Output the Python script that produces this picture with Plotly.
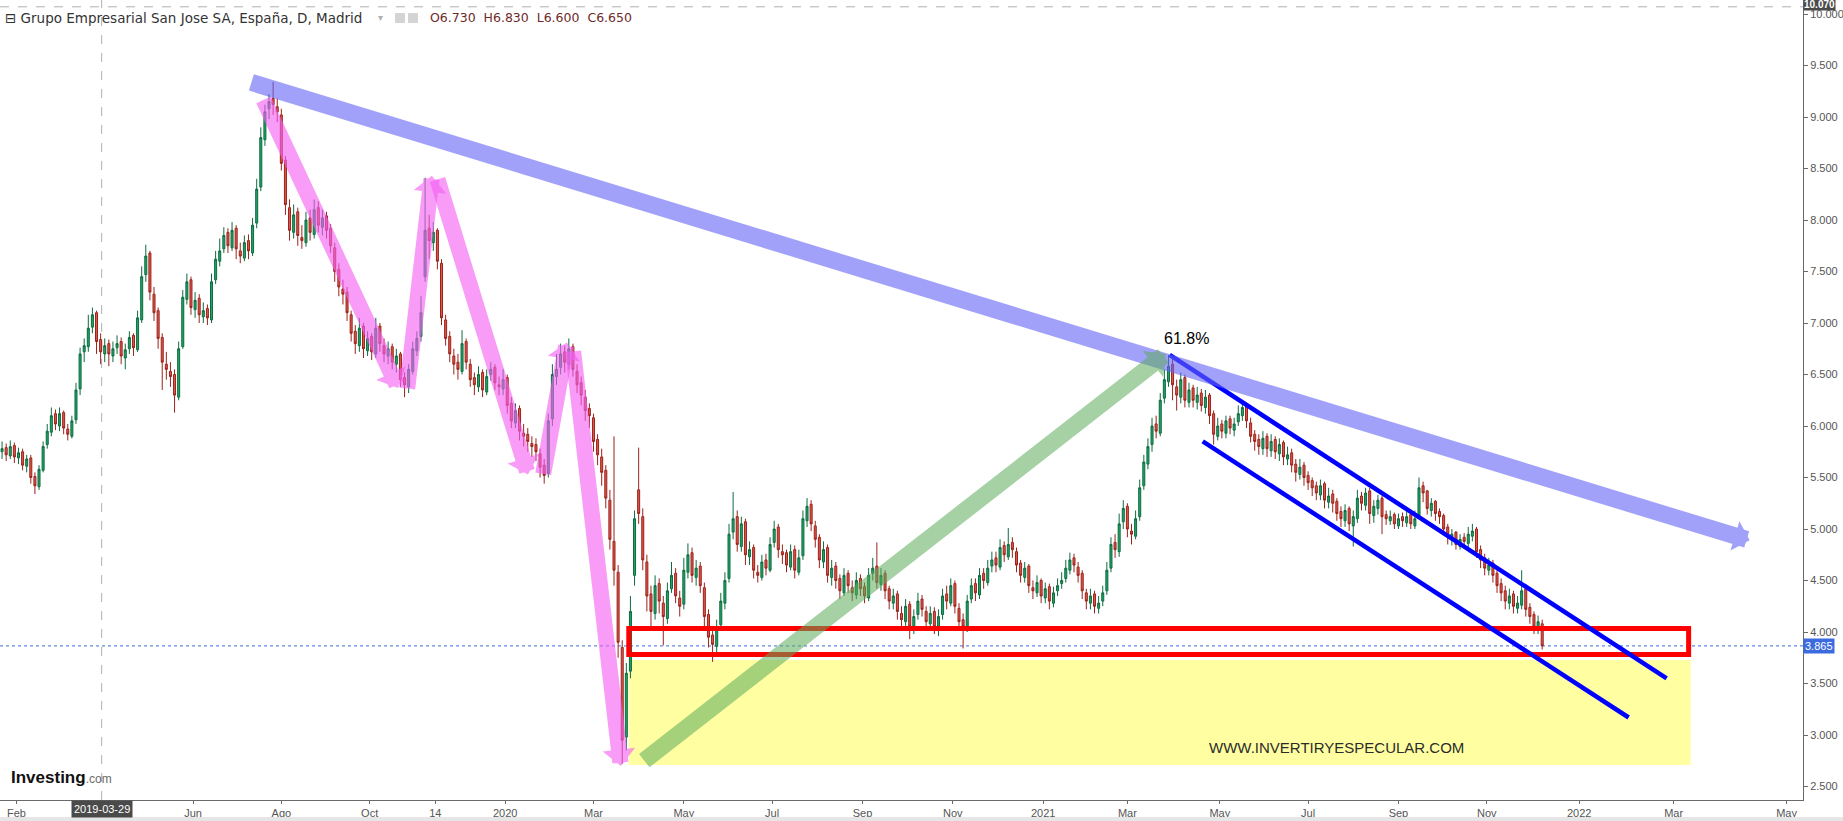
import numpy as np
import pandas as pd
import plotly.graph_objects as go

# ---------------- data (2-session candles) ----------------
opens = [
    5.75, 5.79, 5.71, 5.81, 5.69, 5.75, 5.61, 5.69, 5.51, 5.41,
    5.57, 5.82, 5.94, 6.12, 6.00, 6.13, 5.97, 5.90, 6.06, 6.36,
    6.72, 6.77, 6.96, 7.10, 6.84, 6.70, 6.80, 6.68, 6.76, 6.82,
    6.66, 6.75, 6.88, 6.74, 7.03, 7.47, 7.68, 7.28, 7.12, 6.86,
    6.60, 6.53, 6.50, 6.28, 6.77, 7.23, 7.42, 7.13, 7.24, 7.06,
    7.14, 7.03, 7.42, 7.60, 7.72, 7.88, 7.73, 7.92, 7.70, 7.63,
    7.80, 7.68, 7.97, 8.32, 8.78, 9.08, 9.18, 9.10, 9.02, 8.58,
    8.12, 7.88, 8.08, 7.83, 7.78, 8.02, 7.86, 8.12, 7.93, 8.04,
    7.92, 7.73, 7.52, 7.33, 7.30, 7.08, 6.92, 6.78, 6.97, 6.73,
    6.87, 6.70, 6.97, 6.78, 6.68, 6.77, 6.60, 6.70, 6.47, 6.38,
    6.53, 6.73, 6.87, 7.45, 7.92, 7.78, 7.90, 7.58, 7.03, 6.87,
    6.68, 6.62, 6.53, 6.82, 6.60, 6.47, 6.38, 6.52, 6.33, 6.50,
    6.57, 6.40, 6.36, 6.47, 6.22, 6.03, 6.17, 5.93, 5.92, 5.83,
    5.82, 5.73, 5.62, 5.54, 6.07, 6.48, 6.57, 6.72, 6.60, 6.77,
    6.53, 6.42, 6.28, 6.17, 6.08, 5.87, 5.70, 5.57, 5.28, 4.88,
    4.58, 3.85, 2.98, 3.62, 4.55, 5.38, 5.12, 4.68, 4.37, 4.18,
    4.47, 4.28, 4.13, 4.42, 4.57, 4.33, 4.27, 4.58, 4.77, 4.53,
    4.64, 4.43, 4.17, 3.97, 3.86, 4.07, 4.28, 4.52, 4.97, 5.12,
    4.83, 5.07, 4.73, 4.82, 4.58, 4.53, 4.70, 4.60, 4.87, 5.02,
    4.78, 4.77, 4.63, 4.80, 4.58, 4.74, 5.08, 5.24, 5.03, 4.92,
    4.68, 4.82, 4.53, 4.64, 4.52, 4.38, 4.57, 4.43, 4.36, 4.52,
    4.44, 4.33, 4.57, 4.64, 4.46, 4.57, 4.42, 4.28, 4.37, 4.18,
    4.10, 4.27, 4.03, 4.17, 4.32, 4.20, 4.08, 4.20, 4.03, 4.17,
    4.37, 4.28, 4.47, 4.23, 4.12, 4.03, 4.32, 4.47, 4.36, 4.57,
    4.48, 4.64, 4.72, 4.63, 4.84, 4.73, 4.87, 4.78, 4.67, 4.53,
    4.64, 4.43, 4.38, 4.50, 4.33, 4.44, 4.28, 4.40, 4.47, 4.52,
    4.60, 4.72, 4.63, 4.57, 4.38, 4.28, 4.37, 4.23, 4.30, 4.40,
    4.62, 4.87, 4.78, 5.07, 5.22, 4.98, 4.93, 5.12, 5.42, 5.63,
    5.82, 6.02, 5.93, 6.27, 6.43, 6.60, 6.38, 6.28, 6.47, 6.23,
    6.37, 6.23, 6.32, 6.18, 6.30, 6.12, 5.90, 6.02, 5.93, 6.07,
    5.96, 6.04, 6.10, 6.20, 6.03, 5.92, 5.87, 5.78, 5.90, 5.76,
    5.87, 5.73, 5.84, 5.68, 5.74, 5.63, 5.53, 5.62, 5.52, 5.47,
    5.42, 5.33, 5.44, 5.26, 5.34, 5.27, 5.17, 5.08, 5.20, 5.03,
    5.10, 5.32, 5.23, 5.37, 5.13, 5.20, 5.30, 5.14, 5.08, 5.14,
    5.03, 5.12, 5.06, 5.14, 5.03, 5.12, 5.42, 5.37, 5.18, 5.27,
    5.17, 5.13, 5.02, 4.90, 4.97, 4.83, 4.92, 4.86, 4.93, 5.00,
    4.80, 4.72, 4.60, 4.67, 4.57, 4.47, 4.40, 4.28, 4.37, 4.23,
    4.26, 4.42, 4.24, 4.17, 4.03, 4.08,
]
highs = [
    5.85, 5.83, 5.86, 5.84, 5.79, 5.78, 5.72, 5.72, 5.55, 5.62,
    5.85, 6.02, 6.18, 6.16, 6.18, 6.15, 6.02, 6.10, 6.42, 6.76,
    6.85, 7.08, 7.15, 7.12, 6.90, 6.85, 6.84, 6.82, 6.88, 6.86,
    6.80, 6.92, 6.90, 7.12, 7.55, 7.76, 7.70, 7.35, 7.15, 6.90,
    6.72, 6.62, 6.55, 6.82, 7.32, 7.48, 7.45, 7.30, 7.28, 7.20,
    7.18, 7.48, 7.70, 7.82, 7.93, 7.92, 7.98, 7.95, 7.78, 7.85,
    7.86, 8.02, 8.40, 8.90, 9.12, 9.22, 9.34, 9.18, 9.08, 8.62,
    8.20, 8.15, 8.12, 7.95, 8.08, 8.10, 8.20, 8.18, 8.10, 8.08,
    7.96, 7.78, 7.58, 7.42, 7.35, 7.12, 6.98, 7.05, 7.00, 6.92,
    6.90, 7.05, 7.00, 6.85, 6.82, 6.80, 6.75, 6.72, 6.52, 6.60,
    6.82, 6.92, 7.26, 8.41, 8.05, 7.98, 7.92, 7.62, 7.08, 6.92,
    6.75, 6.70, 6.93, 6.85, 6.65, 6.52, 6.58, 6.55, 6.55, 6.62,
    6.60, 6.48, 6.55, 6.50, 6.28, 6.22, 6.20, 6.02, 5.98, 5.90,
    5.88, 5.78, 5.68, 6.12, 6.60, 6.70, 6.80, 6.78, 6.85, 6.80,
    6.60, 6.48, 6.35, 6.22, 6.12, 5.92, 5.78, 5.62, 5.38, 5.90,
    4.65, 3.92, 3.70, 4.35, 5.18, 5.79, 5.20, 4.75, 4.45, 4.55,
    4.52, 4.35, 4.48, 4.68, 4.62, 4.40, 4.72, 4.86, 4.82, 4.70,
    4.68, 4.48, 4.22, 4.05, 4.12, 4.38, 4.58, 5.05, 5.36, 5.18,
    5.12, 5.10, 4.88, 4.85, 4.65, 4.75, 4.76, 4.92, 5.08, 5.05,
    4.85, 4.80, 4.85, 4.84, 4.80, 5.18, 5.30, 5.28, 5.08, 4.95,
    4.88, 4.85, 4.70, 4.68, 4.56, 4.62, 4.60, 4.50, 4.58, 4.56,
    4.48, 4.62, 4.72, 4.87, 4.62, 4.60, 4.45, 4.42, 4.40, 4.25,
    4.32, 4.30, 4.22, 4.38, 4.36, 4.25, 4.25, 4.24, 4.22, 4.42,
    4.45, 4.52, 4.50, 4.28, 4.18, 4.36, 4.52, 4.52, 4.62, 4.62,
    4.70, 4.78, 4.78, 4.90, 4.88, 5.01, 4.92, 4.82, 4.70, 4.68,
    4.66, 4.50, 4.55, 4.52, 4.48, 4.47, 4.44, 4.52, 4.58, 4.70,
    4.77, 4.76, 4.68, 4.60, 4.42, 4.42, 4.40, 4.35, 4.45, 4.68,
    4.92, 4.95, 5.15, 5.28, 5.25, 5.05, 5.18, 5.48, 5.72, 5.88,
    6.08, 6.10, 6.32, 6.55, 6.69, 6.65, 6.45, 6.52, 6.50, 6.42,
    6.40, 6.38, 6.36, 6.35, 6.32, 6.15, 6.08, 6.06, 6.10, 6.10,
    6.08, 6.20, 6.25, 6.22, 6.08, 5.96, 5.92, 5.95, 5.93, 5.92,
    5.90, 5.88, 5.86, 5.80, 5.78, 5.68, 5.68, 5.65, 5.56, 5.50,
    5.46, 5.48, 5.46, 5.40, 5.38, 5.30, 5.22, 5.24, 5.22, 5.18,
    5.38, 5.36, 5.40, 5.40, 5.28, 5.33, 5.32, 5.18, 5.18, 5.16,
    5.15, 5.16, 5.18, 5.16, 5.18, 5.50, 5.46, 5.38, 5.30, 5.28,
    5.20, 5.15, 5.05, 5.00, 4.98, 4.95, 4.96, 5.02, 5.05, 5.02,
    4.84, 4.76, 4.72, 4.70, 4.60, 4.52, 4.45, 4.42, 4.40, 4.35,
    4.60, 4.45, 4.28, 4.20, 4.16, 4.12,
]
lows = [
    5.68, 5.66, 5.68, 5.64, 5.63, 5.57, 5.55, 5.44, 5.34, 5.38,
    5.55, 5.78, 5.90, 5.96, 5.95, 5.92, 5.86, 5.88, 6.02, 6.30,
    6.62, 6.72, 6.90, 6.70, 6.60, 6.62, 6.58, 6.62, 6.70, 6.60,
    6.55, 6.70, 6.68, 6.72, 7.00, 7.40, 7.22, 7.02, 6.75, 6.35,
    6.45, 6.38, 6.13, 6.25, 6.75, 7.18, 7.08, 7.05, 7.00, 7.00,
    6.98, 7.00, 7.38, 7.55, 7.68, 7.68, 7.70, 7.62, 7.58, 7.60,
    7.62, 7.65, 7.92, 8.28, 8.72, 8.98, 9.02, 8.95, 8.48, 8.05,
    7.80, 7.82, 7.75, 7.72, 7.74, 7.80, 7.82, 7.88, 7.85, 7.82,
    7.68, 7.40, 7.26, 7.18, 7.02, 6.82, 6.70, 6.72, 6.66, 6.68,
    6.64, 6.66, 6.72, 6.62, 6.60, 6.55, 6.52, 6.38, 6.28, 6.32,
    6.50, 6.68, 6.82, 7.40, 7.62, 7.70, 7.52, 6.98, 6.78, 6.62,
    6.50, 6.45, 6.50, 6.55, 6.38, 6.30, 6.33, 6.28, 6.30, 6.44,
    6.35, 6.30, 6.30, 6.12, 5.98, 5.98, 5.86, 5.80, 5.75, 5.70,
    5.66, 5.50, 5.44, 5.50, 6.00, 6.40, 6.50, 6.52, 6.55, 6.48,
    6.32, 6.20, 6.05, 5.98, 5.75, 5.62, 5.42, 5.20, 4.80, 4.45,
    3.75, 2.72, 2.85, 3.55, 4.45, 5.05, 4.60, 4.20, 4.05, 4.12,
    4.18, 3.87, 4.08, 4.38, 4.28, 4.15, 4.22, 4.52, 4.48, 4.45,
    4.38, 4.05, 3.85, 3.71, 3.80, 4.02, 4.22, 4.48, 4.90, 4.78,
    4.78, 4.65, 4.65, 4.52, 4.48, 4.50, 4.55, 4.58, 4.82, 4.72,
    4.66, 4.58, 4.60, 4.52, 4.55, 4.70, 5.02, 4.98, 4.82, 4.62,
    4.62, 4.48, 4.45, 4.42, 4.32, 4.35, 4.38, 4.30, 4.32, 4.35,
    4.28, 4.30, 4.50, 4.42, 4.40, 4.32, 4.22, 4.22, 4.12, 4.02,
    4.05, 3.93, 3.98, 4.12, 4.15, 4.02, 4.02, 3.98, 3.96, 4.12,
    4.22, 4.25, 4.18, 4.02, 3.84, 4.00, 4.28, 4.30, 4.32, 4.42,
    4.45, 4.58, 4.58, 4.60, 4.68, 4.70, 4.72, 4.58, 4.48, 4.48,
    4.38, 4.32, 4.34, 4.28, 4.28, 4.22, 4.24, 4.35, 4.42, 4.48,
    4.56, 4.58, 4.48, 4.32, 4.22, 4.22, 4.18, 4.18, 4.25, 4.36,
    4.58, 4.72, 4.73, 5.00, 4.92, 4.85, 4.90, 5.08, 5.38, 5.58,
    5.75, 5.88, 5.90, 6.22, 6.38, 6.25, 6.15, 6.22, 6.18, 6.18,
    6.18, 6.16, 6.14, 6.12, 6.02, 5.82, 5.86, 5.88, 5.88, 5.92,
    5.90, 6.00, 6.05, 5.98, 5.84, 5.76, 5.72, 5.72, 5.70, 5.70,
    5.68, 5.66, 5.62, 5.62, 5.55, 5.46, 5.48, 5.42, 5.38, 5.32,
    5.28, 5.28, 5.20, 5.20, 5.16, 5.08, 5.02, 5.02, 4.98, 4.83,
    5.06, 5.18, 5.18, 5.05, 5.06, 5.14, 4.95, 5.04, 5.04, 5.00,
    5.00, 5.02, 5.02, 5.00, 5.00, 5.10, 5.26, 5.14, 5.12, 5.08,
    5.05, 4.94, 4.85, 4.84, 4.80, 4.80, 4.82, 4.82, 4.88, 4.72,
    4.62, 4.55, 4.55, 4.48, 4.38, 4.30, 4.22, 4.22, 4.18, 4.18,
    4.22, 4.15, 4.08, 3.98, 3.98, 3.83,
]
closes = [
    5.78, 5.72, 5.80, 5.70, 5.74, 5.62, 5.68, 5.50, 5.42, 5.58,
    5.80, 5.95, 6.10, 6.02, 6.12, 5.98, 5.92, 6.05, 6.35, 6.70,
    6.78, 6.95, 7.08, 6.82, 6.72, 6.78, 6.70, 6.75, 6.80, 6.68,
    6.74, 6.86, 6.76, 7.05, 7.45, 7.65, 7.30, 7.10, 6.85, 6.62,
    6.55, 6.48, 6.30, 6.75, 7.25, 7.40, 7.15, 7.22, 7.08, 7.12,
    7.05, 7.40, 7.62, 7.70, 7.85, 7.75, 7.90, 7.72, 7.65, 7.78,
    7.70, 7.95, 8.30, 8.80, 9.05, 9.15, 9.12, 9.05, 8.55, 8.15,
    7.90, 8.05, 7.85, 7.80, 8.00, 7.88, 8.10, 7.95, 8.02, 7.90,
    7.75, 7.50, 7.35, 7.28, 7.10, 6.90, 6.80, 6.95, 6.75, 6.85,
    6.72, 6.95, 6.80, 6.70, 6.75, 6.62, 6.68, 6.45, 6.40, 6.55,
    6.75, 6.85, 7.10, 7.90, 7.80, 7.88, 7.60, 7.05, 6.85, 6.70,
    6.60, 6.55, 6.80, 6.62, 6.45, 6.40, 6.50, 6.35, 6.48, 6.55,
    6.42, 6.38, 6.45, 6.20, 6.05, 6.15, 5.95, 5.90, 5.85, 5.80,
    5.75, 5.60, 5.52, 6.05, 6.50, 6.55, 6.70, 6.62, 6.75, 6.55,
    6.40, 6.30, 6.15, 6.10, 5.85, 5.72, 5.55, 5.30, 4.90, 4.60,
    3.90, 2.95, 3.60, 4.20, 5.10, 5.15, 4.70, 4.35, 4.20, 4.45,
    4.30, 4.15, 4.40, 4.55, 4.35, 4.25, 4.60, 4.75, 4.55, 4.62,
    4.45, 4.15, 3.95, 3.88, 4.05, 4.30, 4.50, 4.95, 5.10, 4.85,
    5.05, 4.75, 4.80, 4.60, 4.55, 4.68, 4.62, 4.85, 5.00, 4.80,
    4.75, 4.65, 4.78, 4.60, 4.72, 5.10, 5.22, 5.05, 4.90, 4.70,
    4.80, 4.55, 4.62, 4.50, 4.40, 4.55, 4.45, 4.38, 4.50, 4.42,
    4.35, 4.55, 4.62, 4.48, 4.55, 4.40, 4.30, 4.35, 4.20, 4.12,
    4.25, 4.05, 4.15, 4.30, 4.22, 4.10, 4.18, 4.05, 4.15, 4.35,
    4.30, 4.45, 4.25, 4.10, 4.05, 4.30, 4.45, 4.38, 4.55, 4.50,
    4.62, 4.70, 4.65, 4.82, 4.75, 4.85, 4.80, 4.65, 4.55, 4.62,
    4.45, 4.40, 4.48, 4.35, 4.42, 4.30, 4.38, 4.45, 4.50, 4.62,
    4.70, 4.65, 4.55, 4.40, 4.30, 4.35, 4.25, 4.28, 4.38, 4.60,
    4.85, 4.80, 5.05, 5.20, 5.00, 4.95, 5.10, 5.40, 5.65, 5.80,
    6.00, 5.95, 6.25, 6.45, 6.58, 6.40, 6.30, 6.45, 6.25, 6.35,
    6.25, 6.30, 6.20, 6.28, 6.10, 5.92, 6.00, 5.95, 6.05, 5.98,
    6.02, 6.12, 6.18, 6.05, 5.90, 5.85, 5.80, 5.88, 5.78, 5.85,
    5.75, 5.82, 5.70, 5.72, 5.62, 5.55, 5.60, 5.50, 5.45, 5.40,
    5.35, 5.42, 5.28, 5.32, 5.25, 5.15, 5.10, 5.18, 5.05, 5.12,
    5.30, 5.25, 5.35, 5.15, 5.22, 5.28, 5.12, 5.10, 5.12, 5.05,
    5.10, 5.08, 5.12, 5.05, 5.10, 5.40, 5.35, 5.20, 5.25, 5.15,
    5.12, 5.00, 4.92, 4.95, 4.85, 4.90, 4.88, 4.95, 4.98, 4.78,
    4.70, 4.62, 4.65, 4.55, 4.45, 4.38, 4.30, 4.35, 4.25, 4.28,
    4.40, 4.22, 4.15, 4.05, 4.10, 3.865,
]
assert len(opens) == len(highs) == len(lows) == len(closes), (
    len(opens), len(highs), len(lows), len(closes))

START = "2019-01-23"
dates = pd.bdate_range(START, periods=len(closes), freq="2B")


def wd(d):
    """weekday index (investing.com style axis without weekends)"""
    return int(np.busday_count(np.datetime64(START), np.datetime64(pd.Timestamp(d).date())))


x_idx = [wd(d) for d in dates]

tick_labels = ["Feb", "Jun", "Ago", "Oct", "14", "2020", "Mar", "May", "Jul", "Sep",
               "Nov", "2021", "Mar", "May", "Jul", "Sep", "Nov", "2022", "Mar", "May"]
tick_dates = ["2019-02-01", "2019-06-03", "2019-08-01", "2019-10-01", "2019-11-14",
              "2020-01-01", "2020-03-02", "2020-05-01", "2020-07-01", "2020-09-01",
              "2020-11-02", "2021-01-01", "2021-03-01", "2021-05-03", "2021-07-01",
              "2021-09-01", "2021-11-01", "2022-01-03", "2022-03-08", "2022-05-24"]
y_ticks = [2.5, 3.0, 3.5, 4.0, 4.5, 5.0, 5.5, 6.0, 6.5, 7.0, 7.5, 8.0, 8.5, 9.0, 9.5, 10.0]

last_price = 3.865
cross_price = 10.070
cross_date = "2019-03-29"

# ---------------- figure ----------------
W, H = 1843, 821
ML, MR, MT, MB = 0, 40, 0, 21
PW, PH = W - ML - MR, H - MT - MB
X_RANGE = [-1, 877]
Y_RANGE = [2.369, 10.136]

NARROW = "Liberation Sans Narrow, Arial Narrow, Liberation Sans, Arial, sans-serif"
SANS = "Liberation Sans, Arial, sans-serif"

fig = go.Figure()
fig.add_trace(go.Candlestick(
    x=x_idx, open=opens, high=highs, low=lows, close=closes,
    increasing=dict(line=dict(color="#0e6b40", width=1), fillcolor="#1fa565"),
    decreasing=dict(line=dict(color="#9a231b", width=1), fillcolor="#e0564b"),
    whiskerwidth=0, hoverinfo="skip", showlegend=False,
))

shapes = []
# yellow support zone
shapes.append(dict(type="rect", xref="x", yref="y", x0=305.2, x1=822.3, y0=2.709, y1=3.728,
                   fillcolor="#ffffa2", line=dict(width=0), layer="below"))
# last price dotted line
shapes.append(dict(type="line", xref="paper", yref="y", x0=0, x1=1, y0=last_price, y1=last_price,
                   line=dict(color="#3c6be0", width=1, dash="dot"), layer="below"))
# crosshair
cx = wd(cross_date) + 1.5
shapes.append(dict(type="line", xref="x", yref="paper", x0=cx, x1=cx, y0=0, y1=1,
                   line=dict(color="#b0b0b0", width=1, dash="dash"), layer="below"))
shapes.append(dict(type="line", xref="paper", yref="y", x0=0, x1=1, y0=cross_price, y1=cross_price,
                   line=dict(color="#b0b0b0", width=1, dash="dash"), layer="below"))
# red box
shapes.append(dict(type="rect", xref="x", yref="y", x0=305.2, x1=821.3, y0=3.782, y1=4.034,
                   line=dict(color="#ff0000", width=5), fillcolor="rgba(0,0,0,0)"))
# descending channel
shapes.append(dict(type="line", xref="x", yref="y", x0=568.6, y0=6.69, x1=810.6, y1=3.55,
                   line=dict(color="#0000ff", width=4.5)))
shapes.append(dict(type="line", xref="x", yref="y", x0=584.7, y0=5.85, x1=792.1, y1=3.17,
                   line=dict(color="#0000ff", width=4.5)))
# bottom strip & title icons (paper coordinates)
shapes.append(dict(type="rect", xref="paper", yref="paper", x0=0, x1=W / PW, y0=-(H - PH) / PH, y1=-17 / PH,
                   fillcolor="#e6e6e6", line=dict(width=0)))
for px0 in (395, 408):
    shapes.append(dict(type="rect", xref="paper", yref="paper", x0=px0 / PW, x1=(px0 + 10) / PW,
                       y0=1 - 23 / PH, y1=1 - 13 / PH, fillcolor="#d4d4d4", line=dict(width=0)))
fig.update_layout(shapes=shapes)

ann = []


def arrow(x0, y0, x1, y1, color, width, size):
    ann.append(dict(x=x1, y=y1, ax=x0, ay=y0, xref="x", yref="y", axref="x", ayref="y",
                    text="", showarrow=True, arrowhead=1, arrowsize=size, arrowwidth=width,
                    arrowcolor=color, standoff=0, startstandoff=0))


PINK = "rgba(244,96,244,0.62)"
arrow(120.7, 9.34, 851.0, 4.89, "rgba(100,100,246,0.6)", 17, 0.3)   # long-term resistance
arrow(127.0, 9.18, 192.8, 6.37, PINK, 16, 0.34)
arrow(197.2, 6.35, 209.3, 8.43, PINK, 16, 0.34)
arrow(211.8, 8.41, 256.1, 5.53, PINK, 16, 0.34)
arrow(263.4, 5.52, 275.0, 6.81, PINK, 16, 0.34)
arrow(278.0, 6.74, 301.3, 2.70, PINK, 16, 0.34)
arrow(312.0, 2.74, 566.7, 6.70, "rgba(92,172,92,0.55)", 17, 0.32)  # recovery

ann.append(dict(x=576.9, y=6.85, xref="x", yref="y", text="61.8%", showarrow=False,
                font=dict(family=SANS, size=16, color="#000000")))
ann.append(dict(x=649.9, y=2.874, xref="x", yref="y", text="WWW.INVERTIRYESPECULAR.COM",
                showarrow=False, font=dict(family=SANS, size=15, color="#2b2b2b")))

# header
ann.append(dict(xref="paper", yref="paper", x=3 / PW, y=1 - 18 / PH, xanchor="left", yanchor="middle",
                text="⊟ Grupo Empresarial San Jose SA, España, D, Madrid", showarrow=False,
                font=dict(family="DejaVu Sans, sans-serif", size=13.5, color="#333333")))
ann.append(dict(xref="paper", yref="paper", x=376 / PW, y=1 - 18 / PH, xanchor="left", yanchor="middle",
                text="▾", showarrow=False, font=dict(family="DejaVu Sans", size=10, color="#b0b0b0")))
ann.append(dict(xref="paper", yref="paper", x=428 / PW, y=1 - 18 / PH, xanchor="left", yanchor="middle",
                text="O6.730  H6.830  L6.600  C6.650", showarrow=False,
                font=dict(family="DejaVu Sans, sans-serif", size=12.5, color="#6e2a2a")))
# logo
ann.append(dict(xref="paper", yref="paper", x=9 / PW, y=(PH - 777) / PH, xanchor="left", yanchor="middle",
                text="<b>Investing</b><span style='font-size:12px;color:#6a6a6a'>.com</span>",
                showarrow=False, font=dict(family=SANS, size=17, color="#111111")))
# price labels on the right axis
ann.append(dict(xref="paper", yref="paper", x=1, y=1 - 5 / PH, xanchor="left", yanchor="middle",
                text="<b>10.070</b>", showarrow=False, bgcolor="#4a4a4a", borderpad=0,
                font=dict(family=SANS, size=10, color="#ffffff")))
ann.append(dict(xref="paper", yref="y", x=1, y=last_price, xanchor="left", yanchor="middle",
                text="3.865", showarrow=False, bgcolor="#3c6be0", borderpad=1,
                font=dict(family=SANS, size=11, color="#ffffff")))
# crosshair date label
ann.append(dict(xref="x", yref="paper", x=cx, y=-9 / PH, xanchor="center", yanchor="middle",
                text=cross_date, showarrow=False, bgcolor="#4a4a4a", borderpad=2,
                font=dict(family=NARROW, size=11, color="#ffffff")))
fig.update_layout(annotations=ann)

fig.update_layout(
    width=W, height=H, autosize=False,
    margin=dict(l=ML, r=MR, t=MT, b=MB, pad=0),
    paper_bgcolor="#ffffff", plot_bgcolor="#ffffff",
    showlegend=False, hovermode=False,
    xaxis=dict(range=X_RANGE, rangeslider=dict(visible=False), showgrid=False, zeroline=False,
               showline=True, linecolor="#6a6a6a", linewidth=1, ticks="outside", ticklen=3,
               tickcolor="#6a6a6a", tickvals=[wd(d) for d in tick_dates], ticktext=tick_labels,
               tickfont=dict(family=NARROW, size=11, color="#555555")),
    yaxis=dict(range=Y_RANGE, side="right", showgrid=False, zeroline=False, showline=True,
               linecolor="#6a6a6a", linewidth=1, ticks="outside", ticklen=4, tickcolor="#6a6a6a",
               tickvals=y_ticks, tickformat=".3f",
               tickfont=dict(family=SANS, size=11, color="#555555")),
)

fig.write_html("out.html", config={"displayModeBar": False},
               post_script="document.body.style.margin='0';document.body.style.overflow='hidden';")
